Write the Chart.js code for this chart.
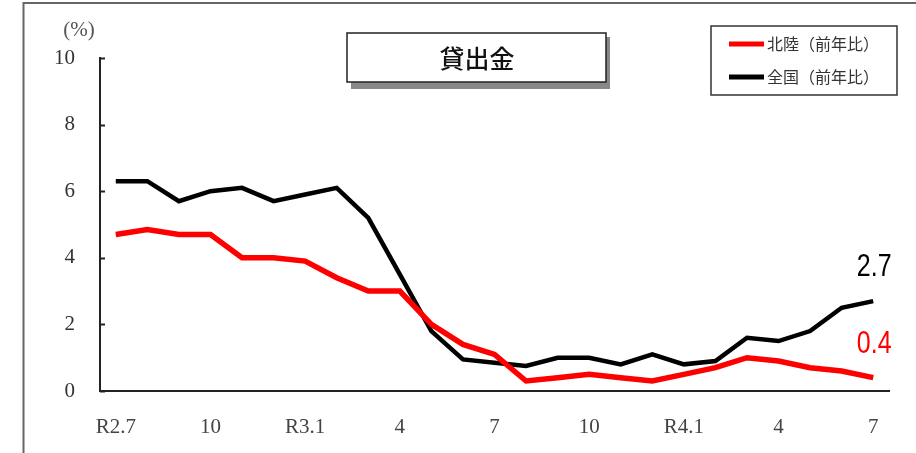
<!DOCTYPE html>
<html lang="ja">
  <head>
    <meta charset="UTF-8" />
    <title>貸出金</title>
    <script src="https://cdn.jsdelivr.net/npm/chart.js"></script>
    <style>
      html,
      body {
        margin: 0;
        padding: 0;
        background: white;
        overflow: hidden;
      }
      canvas {
        display: block;
      }
    </style>
  </head>
  <body>
    <canvas id="loanChart" width="916" height="453"></canvas>

    <script>
      // monthly data R2.7 .. R4.7
      const months = [
        'R2.7', 'R2.8', 'R2.9', 'R2.10', 'R2.11', 'R2.12',
        'R3.1', 'R3.2', 'R3.3', 'R3.4', 'R3.5', 'R3.6',
        'R3.7', 'R3.8', 'R3.9', 'R3.10', 'R3.11', 'R3.12',
        'R4.1', 'R4.2', 'R4.3', 'R4.4', 'R4.5', 'R4.6', 'R4.7',
      ]
      // only every third month gets a label
      const tickLabels = {
        0: 'R2.7', 3: '10', 6: 'R3.1', 9: '4', 12: '7',
        15: '10', 18: 'R4.1', 21: '4', 24: '7',
      }
      const hokuriku = [
        4.7, 4.85, 4.7, 4.7, 4.0, 4.0, 3.9, 3.4, 3.0, 3.0, 2.0, 1.4,
        1.1, 0.3, 0.4, 0.5, 0.4, 0.3, 0.5, 0.7, 1.0, 0.9, 0.7, 0.6, 0.4,
      ]
      const zenkoku = [
        6.3, 6.3, 5.7, 6.0, 6.1, 5.7, 5.9, 6.1, 5.2, 3.5, 1.8, 0.95,
        0.85, 0.75, 1.0, 1.0, 0.8, 1.1, 0.8, 0.9, 1.6, 1.5, 1.8, 2.5, 2.7,
      ]
      const seriesNames = ['北陸（前年比）', '全国（前年比）']
      const seriesColors = ['#ff0000', '#000000']
      const chartTitle = '貸出金'
      const unitLabel = '(%)'

      const jpFont = '"Noto Sans CJK JP", "Noto Sans", sans-serif'
      const serifFont = '"Liberation Serif", "DejaVu Serif", serif'

      // frame, title box, legend, inward ticks and end-of-line values
      const decorations = {
        id: 'decorations',
        beforeDraw(chart) {
          const c = chart.ctx
          c.save()
          c.strokeStyle = '#666'
          c.lineWidth = 2
          c.beginPath()
          c.moveTo(23.5, 453)
          c.lineTo(23.5, 3)
          c.lineTo(916, 3)
          c.stroke()
          c.restore()
        },
        afterDraw(chart) {
          const c = chart.ctx
          const y = chart.scales.y
          c.save()

          // y ticks point into the plot
          c.strokeStyle = '#222'
          c.lineWidth = 2
          for (let v = 0; v <= 10; v += 2) {
            const py = Math.round(y.getPixelForValue(v)) + 0.5
            c.beginPath()
            c.moveTo(y.right, py)
            c.lineTo(y.right + 5, py)
            c.stroke()
          }

          // unit
          c.fillStyle = '#555'
          c.font = '21px ' + serifFont
          c.textAlign = 'center'
          c.textBaseline = 'middle'
          c.fillText(unitLabel, 79, 30)

          // title box with drop shadow
          c.fillStyle = '#888'
          c.fillRect(351, 37, 259, 52)
          c.fillStyle = '#fff'
          c.fillRect(347, 33, 259, 49)
          c.strokeStyle = '#222'
          c.lineWidth = 1.5
          c.strokeRect(347, 33, 259, 49)
          c.fillStyle = '#111'
          c.font = '500 25px ' + jpFont
          c.textAlign = 'center'
          c.fillText(chartTitle, 477, 58)

          // legend
          c.fillStyle = '#fff'
          c.fillRect(711, 26, 186, 69)
          c.strokeStyle = '#333'
          c.lineWidth = 1.5
          c.strokeRect(711, 26, 186, 69)
          c.font = '16px ' + jpFont
          c.textAlign = 'left'
          chart.data.datasets.forEach((ds, i) => {
            const ly = 44 + i * 33
            c.strokeStyle = ds.borderColor
            c.lineWidth = 5
            c.beginPath()
            c.moveTo(729, ly)
            c.lineTo(764, ly)
            c.stroke()
            c.fillStyle = '#333'
            c.fillText(ds.label, 767, ly)
          })

          // latest values above the last points, in a condensed face
          c.font = '32px "Liberation Sans", sans-serif'
          c.textAlign = 'center'
          chart.data.datasets.forEach((ds, i) => {
            const meta = chart.getDatasetMeta(i)
            const last = meta.data[meta.data.length - 1]
            const val = ds.data[ds.data.length - 1]
            c.save()
            c.translate(last.x + 1, last.y - 34)
            c.scale(0.78, 1)
            c.fillStyle = ds.borderColor
            c.fillText(val.toFixed(1), 0, 0)
            c.restore()
          })
          c.restore()
        },
      }

      const ctx = document.getElementById('loanChart').getContext('2d')
      const loanChart = new Chart(ctx, {
        type: 'line',
        data: {
          labels: months,
          datasets: [
            {
              label: seriesNames[0],
              data: hokuriku,
              borderColor: seriesColors[0],
              borderWidth: 5.5,
              pointRadius: 0,
              tension: 0,
            },
            {
              label: seriesNames[1],
              data: zenkoku,
              borderColor: seriesColors[1],
              borderWidth: 4.5,
              pointRadius: 0,
              tension: 0,
            },
          ],
        },
        plugins: [decorations],
        options: {
          responsive: false,
          animation: false,
          layout: { padding: { left: 0, right: 27, top: 58, bottom: 0 } },
          plugins: {
            legend: { display: false },
            tooltip: { enabled: false },
          },
          scales: {
            x: {
              offset: true,
              grid: { display: false },
              border: { color: '#222', width: 2 },
              afterFit: (s) => {
                s.height = 62
              },
              ticks: {
                autoSkip: false,
                maxRotation: 0,
                padding: 16,
                color: '#444',
                font: { family: serifFont, size: 21 },
                callback: (v, i) => tickLabels[i] || '',
              },
            },
            y: {
              min: 0,
              max: 10,
              grid: { display: false },
              border: { color: '#222', width: 2 },
              afterFit: (s) => {
                s.width = 100
              },
              ticks: {
                stepSize: 2,
                padding: 17,
                color: '#333',
                font: { family: serifFont, size: 21 },
              },
            },
          },
        },
      })
    </script>
  </body>
</html>
